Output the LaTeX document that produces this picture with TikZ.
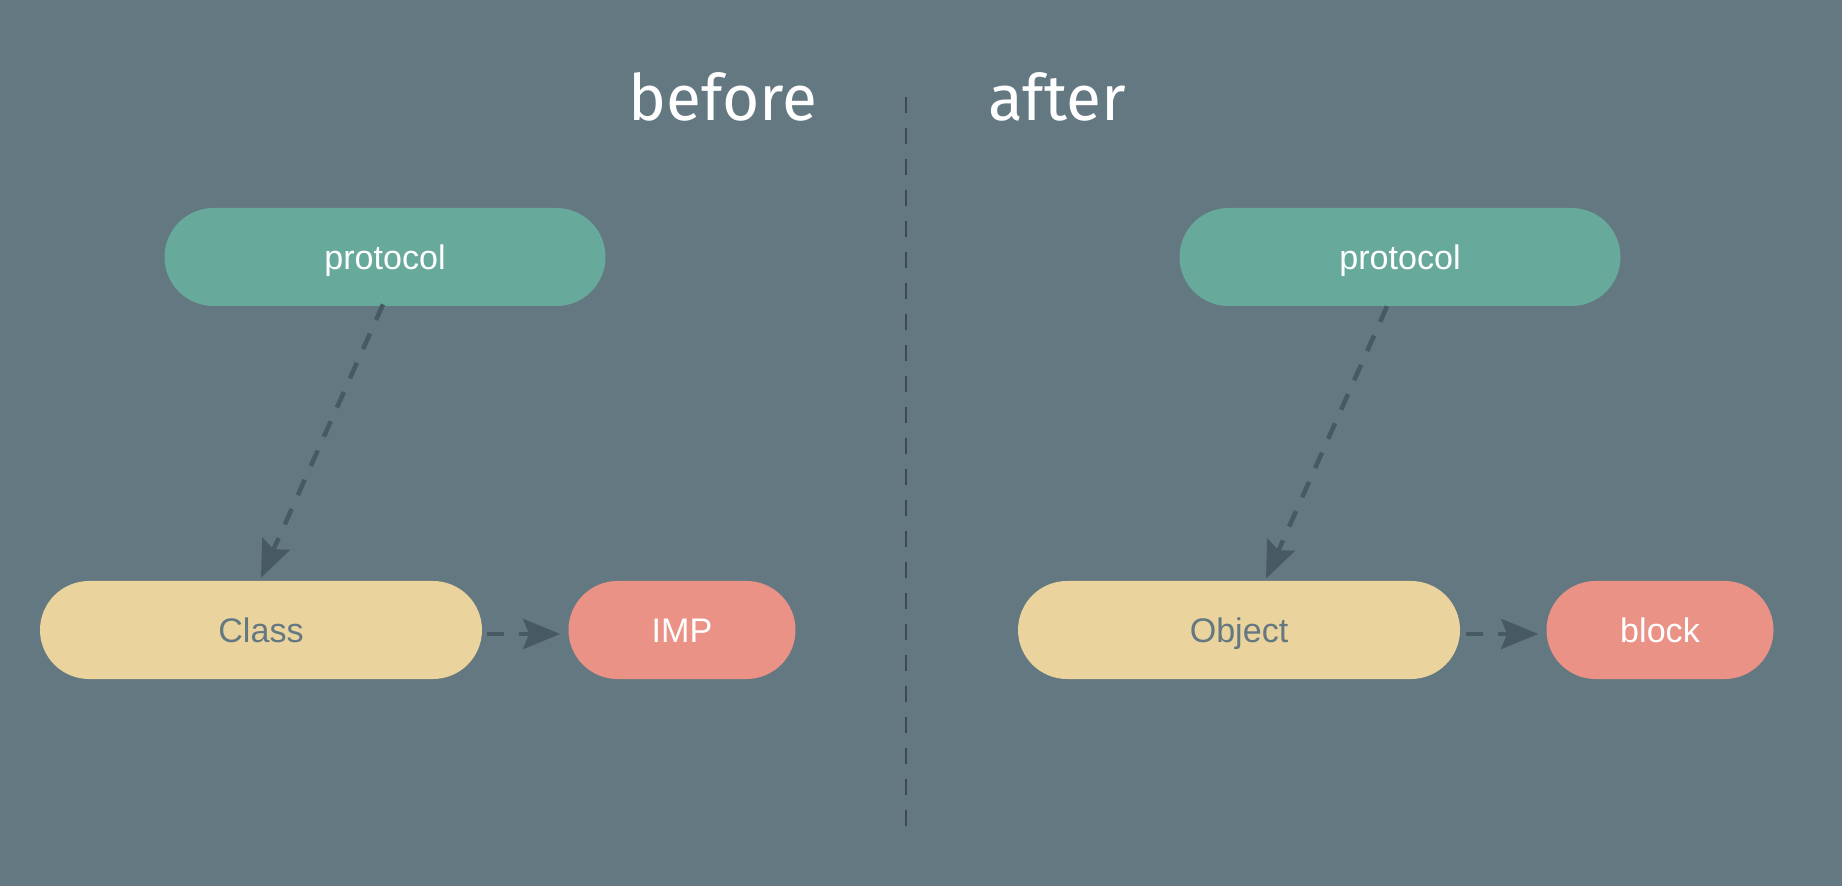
\documentclass[tikz,border=0pt]{standalone}
\usepackage{fontspec}
\setmainfont{Liberation Sans}
\newfontfamily\HeadFont{Fira Sans}
\usetikzlibrary{arrows.meta,shapes.misc}
\definecolor{Backdrop}{HTML}{647882}
\definecolor{Protocol}{HTML}{67A99B}
\definecolor{Holder}{HTML}{EAD39C}
\definecolor{Target}{HTML}{EA9285}
\definecolor{Link}{HTML}{475A63}
\definecolor{Divider}{HTML}{40494F}

\tikzset{
  pill/.style={
    rounded rectangle,
    minimum height=1.96cm,
    inner sep=0pt,
    text height=0.49cm,
    text depth=0cm,
    font=\fontsize{19.4}{23}\selectfont
  },
  protocolpill/.style={pill, fill=Protocol, text=white, minimum width=8.82cm},
  holderpill/.style={pill, fill=Holder, text=Backdrop, minimum width=8.84cm},
  targetpill/.style={pill, fill=Target, text=white, minimum width=4.54cm},
  link/.style={
    draw=Link,
    line width=0.09cm,
    dash pattern=on 0.34cm off 0.3cm,
    -{Stealth[length=0.74cm,width=0.6cm,inset=0.12cm]}
  },
  heading/.style={
    anchor=base,
    text=white,
    font=\HeadFont\fontsize{36.4}{40}\selectfont
  }
}

\begin{document}
\begin{tikzpicture}[x=1cm,y=1cm]

  \fill[Backdrop] (0,0) rectangle (36.84,17.72);

  \node[heading] (before) at (14.46,15.30) {before};
  \node[heading] (after) at (21.14,15.30) {after};

  \draw[
    draw=Divider,
    line width=0.03cm,
    dash pattern=on 0.32cm off 0.3cm
  ] (18.12,15.78) -- (18.12,1.00);

  \node[protocolpill] (protoBefore) at (7.70,12.58) {protocol};
  \node[holderpill] (classBefore) at (5.22,5.12) {Class};
  \node[targetpill] (impBefore) at (13.64,5.12) {IMP};

  \node[protocolpill] (protoAfter) at (28.00,12.58) {protocol};
  \node[holderpill] (objectAfter) at (24.78,5.12) {Object};
  \node[targetpill] (blockAfter) at (33.20,5.12) {block};

  \draw[link]
    ([xshift=-0.04cm,yshift=0.04cm]protoBefore.south)
    -- ([yshift=0.06cm]classBefore.north);
  \draw[link, shorten <=0.1cm, shorten >=0.16cm]
    ([yshift=-0.08cm]classBefore.east)
    -- ([yshift=-0.08cm]impBefore.west);

  \draw[link]
    ([xshift=-0.26cm]protoAfter.south)
    -- ([xshift=0.54cm,yshift=0.04cm]objectAfter.north);
  \draw[link, shorten <=0.12cm, shorten >=0.16cm]
    ([yshift=-0.08cm]objectAfter.east)
    -- ([yshift=-0.08cm]blockAfter.west);

\end{tikzpicture}
\end{document}
